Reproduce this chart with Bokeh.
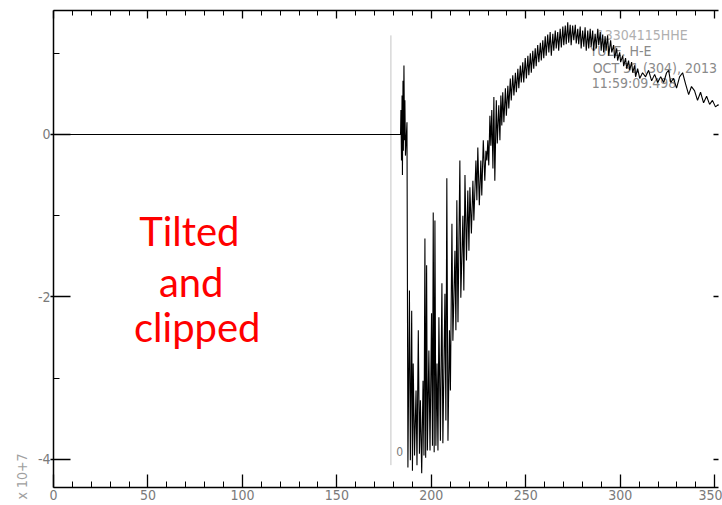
from bokeh.plotting import figure
from bokeh.models import (LinearAxis, FixedTicker, Range1d, Title, ColumnDataSource,
                          CustomLabelingPolicy)
from bokeh.core.properties import value
from bokeh.embed import file_html
from bokeh.resources import INLINE

# --- seismogram trace (time in s, amplitude in units of 10^7 counts) ---
time_s = [
    0.0, 183.4, 183.7, 183.9, 184.2, 184.5, 184.7, 185.0, 185.2, 185.5, 185.8, 186.0, 186.3, 187.1, 187.6,
    188.4, 188.9, 189.6, 190.0, 190.4, 191.1, 191.9, 192.4, 193.1, 193.7, 194.2, 194.9, 195.6, 196.1,
    196.6, 197.0, 197.5, 197.9, 198.7, 199.3, 200.1, 200.6, 201.0, 201.5, 201.9, 202.4, 203.0, 203.5,
    204.0, 204.8, 205.6, 206.1, 207.2, 207.7, 208.2, 208.8, 209.6, 210.1, 210.9, 211.4, 212.5, 213.0,
    213.5, 214.1, 215.1, 215.6, 216.7, 217.2, 217.8, 218.6, 219.3, 219.9, 220.4, 221.2, 222.0, 222.5,
    223.6, 224.1, 224.6, 225.4, 226.2, 226.7, 227.5, 228.3, 228.9, 229.4, 229.9, 230.4, 231.0, 231.5,
    232.0, 232.6, 233.1, 233.6, 234.4, 234.9, 235.7, 236.3, 236.8, 237.3, 237.8, 238.4, 239.2, 239.7,
    240.5, 241.0, 241.8, 242.3, 243.1, 243.7, 244.5, 245.0, 245.8, 246.3, 247.1, 247.6, 248.4, 248.9,
    249.7, 250.3, 251.1, 251.6, 252.4, 252.9, 253.7, 254.2, 255.0, 255.5, 256.3, 256.9, 257.7, 258.2,
    259.0, 259.5, 260.3, 260.8, 261.6, 262.2, 262.9, 263.5, 264.3, 264.8, 265.6, 266.1, 266.9, 267.4,
    268.2, 268.8, 269.6, 270.1, 270.9, 271.4, 272.2, 272.7, 273.5, 274.0, 274.8, 275.4, 276.2, 276.7,
    277.5, 278.0, 278.8, 279.3, 280.1, 280.7, 281.4, 282.0, 282.8, 283.3, 284.1, 284.6, 285.4, 285.9,
    286.7, 287.3, 288.1, 288.6, 289.4, 289.9, 290.7, 291.2, 292.0, 292.5, 293.3, 293.9, 294.9, 295.5,
    296.5, 297.0, 298.1, 298.6, 299.7, 300.2, 301.3, 301.8, 302.8, 303.4, 304.4, 305.0, 306.0, 306.6,
    307.6, 308.1, 309.2, 310.3, 311.8, 313.4, 315.0, 316.6, 318.2, 319.8, 321.4, 323.0, 324.5, 325.6,
    326.7, 328.2, 329.8, 331.4, 333.0, 334.6, 336.2, 337.7, 339.3, 340.9, 342.5, 344.1, 345.7, 347.3,
    348.8, 350.4, 352.0, 353.6,
]
amplitude = [
    0.0, 0.0, 0.0, 0.30, -0.32, 0.48, -0.50, 0.66, -0.20, 0.85, -0.07, 0.42, -0.26, 0.15, -4.10,
    -1.92, -4.01, -2.17, -4.14, -2.82, -3.95, -3.15, -4.07, -2.41, -3.93, -3.27, -4.17, -3.03, -3.95,
    -1.28, -3.98, -1.61, -3.89, -2.66, -3.89, -2.20, -3.83, -0.96, -3.91, -1.06, -3.83, -2.82, -3.89,
    -2.25, -3.77, -1.83, -3.80, -1.96, -3.52, -0.54, -3.77, -2.41, -3.15, -1.10, -2.54, -1.43, -2.41,
    -0.81, -2.31, -0.32, -2.01, -1.00, -1.92, -0.50, -1.55, -0.69, -1.43, -0.65, -1.22, -0.57, -1.06,
    -0.32, -0.81, -0.16, -0.87, -0.32, -0.75, -0.07, -0.57, -0.20, -0.32, -0.07, -0.38, 0.23, -0.14,
    0.30, -0.42, 0.46, -0.57, 0.42, -0.11, 0.36, -0.07, 0.48, 0.11, 0.52, 0.15, 0.57, 0.23,
    0.60, 0.32, 0.69, 0.42, 0.73, 0.48, 0.76, 0.52, 0.81, 0.57, 0.85, 0.64, 0.89, 0.64,
    0.94, 0.69, 0.97, 0.73, 1.00, 0.76, 1.03, 0.81, 1.06, 0.84, 1.10, 0.89, 1.13, 0.91,
    1.16, 0.94, 1.21, 0.97, 1.23, 1.01, 1.26, 0.97, 1.24, 1.03, 1.28, 1.06, 1.26, 1.03,
    1.30, 1.07, 1.33, 1.10, 1.34, 1.11, 1.38, 1.13, 1.35, 1.10, 1.34, 1.16, 1.35, 1.12,
    1.30, 1.11, 1.33, 1.06, 1.28, 1.08, 1.32, 1.03, 1.28, 1.06, 1.30, 1.08, 1.28, 1.03,
    1.24, 1.06, 1.30, 1.10, 1.26, 1.03, 1.23, 1.01, 1.21, 1.03, 1.22, 0.97, 1.16, 1.01,
    1.10, 0.94, 1.06, 0.91, 1.01, 0.89, 0.97, 0.84, 0.94, 0.81, 0.91, 0.79, 0.89, 0.76,
    0.85, 0.71, 0.81, 0.69, 0.76, 0.71, 0.79, 0.66, 0.74, 0.64, 0.71, 0.64, 0.76, 0.79,
    0.64, 0.69, 0.57, 0.71, 0.76, 0.62, 0.49, 0.59, 0.54, 0.42, 0.52, 0.39, 0.47, 0.37,
    0.42, 0.34, 0.37, 0.32,
]

# axis ticks
x_major = [0, 50, 100, 150, 200, 250, 300, 350]
x_minor = [10, 20, 30, 40, 60, 70, 80, 90, 110, 120, 130, 140, 160, 170, 180, 190,
           210, 220, 230, 240, 260, 270, 280, 290, 310, 320, 330, 340]
y_major = [-4, -2, 0]
y_minor = [-3, -1, 1]
y_labels = ["-4", "-2", "0"]

# station header
header_lines = ["13304115HHE", "YULE.   H-E", "OCT 31 (304), 2013", "11:59:09.498"]
scale_note = "x 10+7"
annotation_lines = ["Tilted", "and", "clipped"]

# trigger marker
pick_time = 178.6
pick_top, pick_bottom = 1.22, -4.07

NARROW = "Liberation Sans Narrow, Arial Narrow, DejaVu Sans Condensed, sans-serif"
GRAY = "#7a7a7a"

p = figure(width=722, height=505,
           x_range=Range1d(0, 352.0), y_range=Range1d(-4.345, 1.526),
           x_axis_location=None, y_axis_location=None,
           output_backend="svg", toolbar_location=None,
           min_border_left=53, min_border_right=0, min_border_top=10, min_border_bottom=18)
p.outline_line_color = None
p.background_fill_color = "white"
p.border_fill_color = "white"
for g in p.grid:
    g.visible = False

# hides every tick label of the frame-only axes
no_labels = CustomLabelingPolicy(code="""
for (const i of indices)
    indices.unset(i)
return indices
""")


def make_axis(ticks, minor, labelled):
    ax = LinearAxis(ticker=FixedTicker(ticks=ticks, minor_ticks=minor))
    ax.axis_line_color = "black"
    ax.axis_line_width = 1.5
    ax.major_tick_line_color = "black"
    ax.minor_tick_line_color = "black"
    ax.major_tick_line_width = 1.3
    ax.minor_tick_line_width = 1
    ax.major_label_text_font = NARROW
    ax.major_label_text_color = GRAY
    if labelled:
        ax.major_label_text_font_size = "14px"
    else:
        ax.major_label_text_font_size = "1px"
        ax.major_label_policy = no_labels
        ax.major_label_standoff = 0
    return ax


bottom = make_axis(x_major, x_minor, True)
bottom.major_tick_in = 13
bottom.major_tick_out = 0
bottom.minor_tick_in = 6
bottom.minor_tick_out = 0
bottom.major_label_standoff = 2
p.add_layout(bottom, "below")

top = make_axis(x_major, x_minor, False)
top.major_tick_in = 8
top.major_tick_out = 0
top.minor_tick_in = 5
top.minor_tick_out = 0
p.add_layout(top, "above")

left = make_axis(y_major, y_minor, True)
left.major_tick_in = 17
left.major_tick_out = 3
left.minor_tick_in = 6
left.minor_tick_out = 0
left.major_label_standoff = 0
left.major_label_overrides = dict(zip(y_major, y_labels))
p.add_layout(left, "left")

right = make_axis(y_major, [], False)
right.axis_line_color = None
right.major_tick_in = 5
right.major_tick_out = 0
right.minor_tick_in = 0
right.minor_tick_out = 0
p.add_layout(right, "right")

# exponent note, vertical, at the foot of the y axis
p.add_layout(Title(text=scale_note, align="left", offset=-12, standoff=9,
                   text_font=NARROW, text_font_size="14px", text_font_style="normal",
                   text_color="#a0a0a0"), "left")

# trigger marker line
p.segment(x0=[pick_time], y0=[pick_top], x1=[pick_time], y1=[pick_bottom],
          line_color="#c4c4c4", line_width=1)
p.text(x=[183.3], y=[-3.9], text=["0"], text_font=value(NARROW), text_font_size="12px",
       text_color=GRAY, text_align="center", text_baseline="middle")

# station header text
hx = [287.5, 283.8, 285.4, 284.9]
hy = [1.23, 1.03, 0.82, 0.63]
p.text(x=hx, y=hy, text=header_lines, text_font=value(NARROW), text_font_size="14px",
       text_color=["#b0b0b0", "#8a8a8a", "#8a8a8a", "#8a8a8a"],
       text_align="left", text_baseline="middle")

# trace
src = ColumnDataSource(dict(t=time_s, a=amplitude))
p.line("t", "a", source=src, line_color="black", line_width=1.1)

# red annotation
p.text(x=[71.9, 72.9, 76.1], y=[-1.19, -1.81, -2.37], text=annotation_lines,
       text_font=value("Lato"), text_font_size="40px", text_color="#ff0000",
       text_align="center", text_baseline="alphabetic")

open("out.html", "w").write(file_html(p, INLINE))
